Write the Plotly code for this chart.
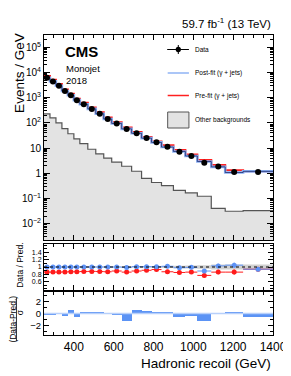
import plotly.graph_objects as go
import numpy as np

# ---------------- data ----------------
edges = [250, 280, 310, 340, 370, 400, 430, 470, 510, 550, 590, 640, 690,
         740, 790, 840, 900, 960, 1020, 1090, 1160, 1250, 1400]
data = [6200, 4450, 3000, 1850, 1250, 800, 550, 360, 230, 143, 95, 57, 39,
        25, 17, 11.2, 7.2, 4.8, 2.6, 1.85, 1.12, 1.12]
other_bkg = [228, 158, 100, 59, 37, 23, 15, 9.0, 5.9, 4.0, 2.75, 1.9, 1.2,
             0.63, 0.43, 0.32, 0.21, 0.165, 0.122, 0.04, 0.031, 0.033]
ratio_post = [1.0, 1.0, 1.0, 1.0, 1.0, 1.0, 1.0, 1.0, 1.0, 1.0, 1.0, 0.985,
              1.01, 1.01, 1.01, 1.02, 0.98, 0.99, 0.89, 1.03, 1.05, 0.94]
ratio_pre = [0.86, 0.86, 0.86, 0.865, 0.87, 0.87, 0.875, 0.88, 0.875, 0.87,
             0.89, 0.86, 0.89, 0.91, 0.93, 0.87, 0.85, 0.86, 0.77, 0.86,
             0.86, 0.94]
ratio_err = [0.008, 0.008, 0.009, 0.01, 0.01, 0.012, 0.012, 0.014, 0.016,
             0.018, 0.02, 0.02, 0.022, 0.025, 0.03, 0.03, 0.035, 0.04, 0.05,
             0.06, 0.07, 0.06]
band_unc = [0.01, 0.01, 0.01, 0.01, 0.01, 0.012, 0.012, 0.013, 0.015, 0.015,
            0.017, 0.02, 0.02, 0.022, 0.025, 0.03, 0.035, 0.04, 0.05, 0.07,
            0.07, 0.07]
pulls = [-0.1, -0.3, 0.0, -0.35, 0.65, -0.65, 0.1, 0.1, 0.1, 0.05, -0.25,
         -1.2, 0.55, 0.4, 0.2, 0.2, -0.5, -0.35, -1.3, 0.0, 0.2, -0.5]
y_tick_vals = [1e-2, 1e-1, 1, 10, 1e2, 1e3, 1e4, 1e5]
y_tick_text = ["10<sup>−2</sup>", "10<sup>−1</sup>", "1", "10", "10<sup>2</sup>",
               "10<sup>3</sup>", "10<sup>4</sup>", "10<sup>5</sup>"]
ratio_tick_vals = [0.6, 0.8, 1, 1.2, 1.4]
ratio_tick_text = ["0.6", "0.8", "1", "1.2", "1.4"]
pull_tick_vals = [-2, 0, 2]
pull_tick_text = ["−2", "0", "2"]

# ---------------- derived ----------------
e = np.array(edges, float)
centers = 0.5 * (e[1:] + e[:-1])
halfw = 0.5 * (e[1:] - e[:-1])
widths = e[1:] - e[:-1]
d = np.array(data)
post = d / np.array(ratio_post)
pre = d / np.array(ratio_pre)


def step(v):
    v = list(v)
    return v + [v[-1]]


FONT = "Liberation Sans, Arial, sans-serif"
W, H = 291, 376
L, R, T, B = 36, 18, 27, 49
PW, PH = W - L - R, H - T - B


def px(x):
    return (x - L) / PW


def py(y):
    return (H - B - y) / PH


fig = go.Figure()

# main panel
fig.add_trace(go.Scatter(x=edges, y=step([1e-4] * len(other_bkg)), mode="lines",
                         line=dict(width=0, shape="hv"), showlegend=False,
                         hoverinfo="skip", xaxis="x", yaxis="y"))
fig.add_trace(go.Scatter(x=edges, y=step(other_bkg), mode="lines",
                         line=dict(color="#555555", width=1.2, shape="hv"),
                         fill="tonexty", fillcolor="#e3e3e3",
                         name="Other backgrounds", xaxis="x", yaxis="y"))
fig.add_trace(go.Scatter(x=edges, y=step(pre), mode="lines",
                         line=dict(color="#ff2020", width=2, shape="hv"),
                         name="Pre-fit (γ + jets)", xaxis="x", yaxis="y"))
fig.add_trace(go.Scatter(x=edges, y=step(post), mode="lines",
                         line=dict(color="#8fb3f5", width=2.6, shape="hv"),
                         name="Post-fit (γ + jets)", xaxis="x", yaxis="y"))
fig.add_trace(go.Scatter(x=edges, y=step(post), mode="lines",
                         line=dict(color="#1c2a6b", width=0.8, shape="hv"),
                         showlegend=False, xaxis="x", yaxis="y"))
fig.add_trace(go.Scatter(x=centers, y=data, mode="markers",
                         marker=dict(color="black", size=6), name="Data",
                         xaxis="x", yaxis="y"))

# ratio panel
fig.add_trace(go.Scatter(x=edges, y=step(1 - np.array(band_unc)), mode="lines",
                         line=dict(width=0, shape="hv"), showlegend=False,
                         xaxis="x2", yaxis="y2"))
fig.add_trace(go.Scatter(x=edges, y=step(1 + np.array(band_unc)), mode="lines",
                         line=dict(width=0, shape="hv"), fill="tonexty",
                         fillcolor="rgba(170,170,170,0.55)", showlegend=False,
                         xaxis="x2", yaxis="y2"))
fig.add_trace(go.Scatter(x=centers, y=ratio_pre, mode="markers",
                         marker=dict(color="#ff1a1a", size=5),
                         error_y=dict(type="data", array=ratio_err, color="#ff1a1a",
                                      thickness=1, width=0),
                         error_x=dict(type="data", array=halfw, color="#ff1a1a",
                                      thickness=1, width=0),
                         showlegend=False, xaxis="x2", yaxis="y2"))
fig.add_trace(go.Scatter(x=centers, y=ratio_post, mode="markers",
                         marker=dict(color="#5d92f5", size=5),
                         error_y=dict(type="data", array=ratio_err, color="#5d92f5",
                                      thickness=1, width=0),
                         error_x=dict(type="data", array=halfw, color="#5d92f5",
                                      thickness=1, width=0),
                         showlegend=False, xaxis="x2", yaxis="y2"))

# pull panel
fig.add_trace(go.Bar(x=centers, y=pulls, width=widths, base=0,
                     marker=dict(color="#5b93f5", line=dict(width=0)),
                     showlegend=False, xaxis="x3", yaxis="y3"))

ax_common = dict(range=[250, 1400], showline=True, linecolor="black",
                 linewidth=1, mirror="allticks", ticks="inside", ticklen=5,
                 tickcolor="black", tickwidth=1, dtick=200, tick0=0,
                 minor=dict(ticks="inside", dtick=50, ticklen=3,
                            tickcolor="black", tickwidth=1),
                 showgrid=False, zeroline=False,
                 tickfont=dict(size=12, family=FONT, color="black"))

# minor log ticks
minor_log = [m * 10.0 ** k for k in range(-3, 6) for m in range(2, 10)]

fig.update_layout(
    width=W, height=H, margin=dict(l=L, r=R, t=T, b=B),
    paper_bgcolor="white", plot_bgcolor="white", showlegend=False,
    bargap=0,
    xaxis=dict(**ax_common, anchor="y", showticklabels=False),
    xaxis2=dict(**ax_common, anchor="y2", matches="x", showticklabels=False),
    xaxis3=dict(**ax_common, anchor="y3", matches="x", showticklabels=True,
                ticklabelstandoff=1),
    yaxis=dict(type="log", domain=[py(232), 1], range=[-2.65, 5.49],
               showline=True, linecolor="black", mirror="allticks",
               ticks="inside", ticklen=6, tickcolor="black",
               tickvals=y_tick_vals, ticktext=y_tick_text,
               minor=dict(ticks="inside", tickvals=minor_log, ticklen=3,
                          tickcolor="black"),
               showgrid=False, zeroline=False,
               tickfont=dict(size=10, family=FONT, color="black")),
    yaxis2=dict(domain=[py(282), py(236)], range=[0.37, 1.63],
                showline=True, linecolor="black", mirror="allticks",
                ticks="inside", ticklen=5, tickcolor="black",
                tickvals=ratio_tick_vals, ticktext=ratio_tick_text,
                minor=dict(ticks="inside", dtick=0.1, ticklen=3,
                           tickcolor="black"),
                showgrid=False, zeroline=False,
                tickfont=dict(size=7, family=FONT, color="black")),
    yaxis3=dict(domain=[0, py(284)], range=[-3.5, 3.5],
                showline=True, linecolor="black", mirror="allticks",
                ticks="inside", ticklen=5, tickcolor="black",
                tickvals=pull_tick_vals, ticktext=pull_tick_text,
                minor=dict(ticks="inside", dtick=1, ticklen=3,
                           tickcolor="black"),
                showgrid=False, zeroline=False,
                tickfont=dict(size=9.5, family=FONT, color="black")),
)

# reference lines
fig.add_shape(type="line", xref="x2 domain", yref="y2", x0=0, x1=1, y0=1, y1=1,
              line=dict(color="black", width=1.2, dash="dot"))
fig.add_shape(type="line", xref="x3 domain", yref="y3", x0=0, x1=1, y0=0, y1=0,
              line=dict(color="#b8d0fa", width=1.5))

ann = []


def text(x, y, s, size, xanchor="left", yanchor="middle", angle=0, bold=False):
    ann.append(dict(x=px(x), y=py(y), xref="paper", yref="paper", text=s,
                    showarrow=False, xanchor=xanchor, yanchor=yanchor,
                    textangle=angle,
                    font=dict(size=size, family=FONT, color="black",
                              weight="bold" if bold else "normal")))


text(273, 15, "59.7 fb<sup>-1</sup> (13 TeV)", 11.5, xanchor="right")
text(56, 43, "CMS", 15, bold=True)
text(57, 61, "Monojet", 9.5)
text(57, 72.5, "2018", 9.5)
text(10, 65, "Events / GeV", 13.5, xanchor="center", angle=-90)
text(11, 257, "Data / Pred.", 8.5, xanchor="center", angle=-90)
text(3.5, 311, "(Data-Pred.)", 8.5, xanchor="center", angle=-90)
text(11.5, 304, "σ", 8.5, xanchor="center", angle=-90)
text(273, 355, "Hadronic recoil (GeV)", 13.5, xanchor="right")

# legend (manual)
text(190, 41.5, "Data", 6.5)
text(190, 65, "Post-fit (γ + jets)", 6.5)
text(190, 87.5, "Pre-fit (γ + jets)", 6.5)
text(190, 112, "Other backgrounds", 6.5)
fig.update_layout(annotations=ann)

shapes = [
    dict(type="line", x0=px(163.5), x1=px(186), y0=py(41.5), y1=py(41.5),
         line=dict(color="black", width=1)),
    dict(type="line", x0=px(175), x1=px(175), y0=py(37), y1=py(46),
         line=dict(color="black", width=1)),
    dict(type="circle", x0=px(172.3), x1=px(177.7), y0=py(38.8), y1=py(44.2),
         fillcolor="black", line=dict(color="black", width=0)),
    dict(type="line", x0=px(164), x1=px(186), y0=py(65), y1=py(65),
         line=dict(color="#8fb3f5", width=1.5)),
    dict(type="line", x0=px(164), x1=px(186), y0=py(87.5), y1=py(87.5),
         line=dict(color="#ff2020", width=1.5)),
    dict(type="rect", x0=px(164), x1=px(186), y0=py(120), y1=py(104),
         fillcolor="#e3e3e3", line=dict(color="#555555", width=1)),
    dict(type="line", x0=px(7.5), x1=px(7.5), y0=py(290), y1=py(333),
         line=dict(color="black", width=0.8)),
]
for s in shapes:
    s.update(xref="paper", yref="paper")
    fig.add_shape(**s)

fig.write_html("out.html")
